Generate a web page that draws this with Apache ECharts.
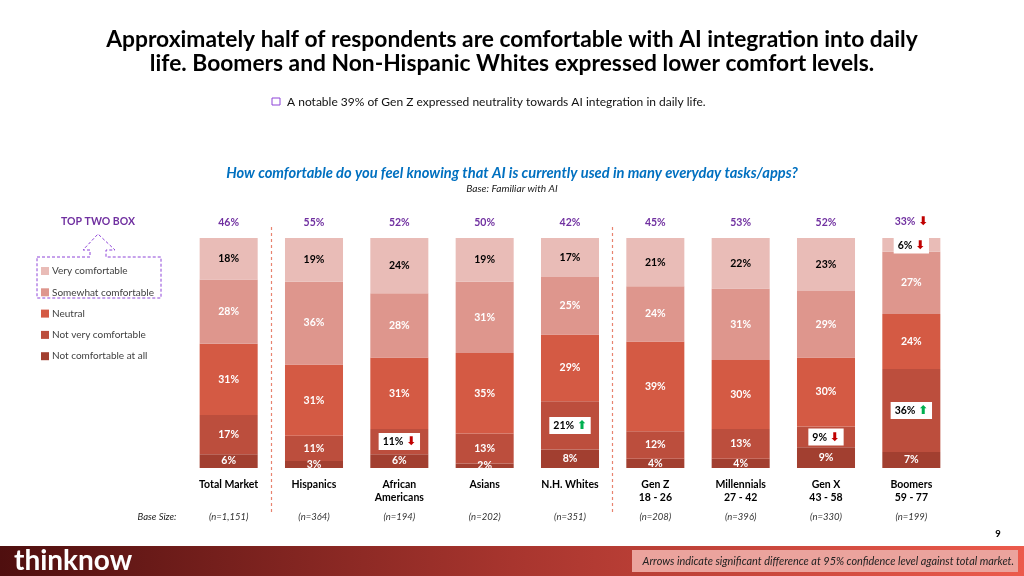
<!DOCTYPE html>
<html>
<head>
<meta charset="utf-8">
<script src="https://cdn.jsdelivr.net/npm/echarts@6.0.0/dist/echarts.min.js"></script>
<style>
html, body { margin: 0; padding: 0; background: #fff; }
#main { width: 1024px; height: 576px; }
</style>
</head>
<body>
<div id="main"></div>
<script>
// data
var categories = ['Total Market', 'Hispanics', 'African\nAmericans', 'Asians', 'N.H. Whites', 'Gen Z\n18 - 26', 'Millennials\n27 - 42', 'Gen X\n43 - 58', 'Boomers\n59 - 77'];
var baseSizes = ['(n=1,151)', '(n=364)', '(n=194)', '(n=202)', '(n=351)', '(n=208)', '(n=396)', '(n=330)', '(n=199)'];
var topTwoBox = [46, 55, 52, 50, 42, 45, 53, 52, 33];
var veryComfortable = [18, 19, 24, 19, 17, 21, 22, 23, 6];
var somewhatComfortable = [28, 36, 28, 31, 25, 24, 31, 29, 27];
var neutral = [31, 31, 31, 35, 29, 39, 30, 30, 24];
var notVeryComfortable = [17, 11, 11, 13, 21, 12, 13, 9, 36];
var notComfortableAtAll = [6, 3, 6, 2, 8, 4, 4, 9, 7];
// significance arrows vs total market
var sigTopTwoBox = ['', '', '', '', '', '', '', '', 'down'];
var sigVery = ['', '', '', '', '', '', '', '', 'down'];
var sigNotVery = ['', '', 'down', '', 'up', '', '', 'down', 'up'];
// dashed separators sit between these category slots
var groupBreaks = [1, 5];

var arrowRich = {
    up: { color: '#00B050', fontFamily: 'DejaVu Sans', fontSize: 12, fontWeight: 'bold' },
    down: { color: '#C00000', fontFamily: 'DejaVu Sans', fontSize: 12, fontWeight: 'bold' }
};
var arrowChar = { up: '⬆', down: '⬇' };

function makeSeries(name, values, color, textColor, sig) {
    return {
        name: name,
        type: 'bar',
        stack: 'total',
        barWidth: '68%',
        xAxisIndex: 0,
        yAxisIndex: 0,
        itemStyle: { color: color },
        label: {
            show: true,
            position: 'inside',
            color: textColor,
            fontFamily: 'Lato',
            fontWeight: 'bold',
            fontSize: 10.5,
            formatter: function (p) {
                var s = sig ? sig[p.dataIndex] : '';
                return p.value + '%' + (s ? ' {' + s + '|' + arrowChar[s] + '}' : '');
            },
            rich: arrowRich
        },
        data: values.map(function (v, i) {
            var d = { value: v };
            if (sig && sig[i]) {
                d.label = { color: '#000', backgroundColor: '#fff', padding: [3, 4, 2, 4] };
            }
            return d;
        })
    };
}

var chart = echarts.init(document.getElementById('main'));

var option = {
    animation: false,
    textStyle: { fontFamily: 'Lato' },
    grid: [
        { left: 186, right: 70, top: 238, bottom: 108 },
        { left: 186, right: 70, top: 226, bottom: 64 }
    ],
    legend: {
        data: ['Very comfortable', 'Somewhat comfortable', 'Neutral', 'Not very comfortable', 'Not comfortable at all'],
        orient: 'vertical',
        left: 36,
        top: 261,
        icon: 'rect',
        itemWidth: 8,
        itemHeight: 8,
        itemGap: 11.3,
        selectedMode: false,
        textStyle: { fontFamily: 'Lato', fontSize: 10, color: '#404040', padding: [0, 0, 0, -2] }
    },
    xAxis: [
        {
            type: 'category',
            gridIndex: 0,
            data: categories,
            position: 'bottom',
            axisLine: { show: false },
            axisTick: { show: false },
            axisLabel: { interval: 0, fontFamily: 'Lato', fontWeight: 'bold', fontSize: 10.5, color: '#000', lineHeight: 13, margin: 10 }
        },
        {
            type: 'category',
            gridIndex: 0,
            data: categories,
            position: 'top',
            axisLine: { show: false },
            axisTick: { show: false },
            axisLabel: {
                interval: 0, fontFamily: 'Lato', fontWeight: 'bold', fontSize: 10.5, color: '#7030A0', margin: 10,
                formatter: function (v, i) {
                    var s = sigTopTwoBox[i];
                    return topTwoBox[i] + '%' + (s ? ' {' + s + '|' + arrowChar[s] + '}' : '');
                },
                rich: arrowRich
            }
        },
        {
            type: 'category',
            gridIndex: 0,
            data: baseSizes,
            position: 'bottom',
            offset: 44,
            axisLine: { show: false },
            axisTick: { show: false },
            axisLabel: { interval: 0, fontFamily: 'Lato', fontStyle: 'italic', fontSize: 9.5, color: '#333', margin: 0 }
        },
        { type: 'value', gridIndex: 1, min: 0, max: categories.length, show: false }
    ],
    yAxis: [
        { type: 'value', gridIndex: 0, min: 0, max: 100, show: false },
        { type: 'value', gridIndex: 1, min: 0, max: 1, show: false }
    ],
    series: [
        makeSeries('Not comfortable at all', notComfortableAtAll, '#A23F30', '#fff', null),
        makeSeries('Not very comfortable', notVeryComfortable, '#BC4E3D', '#fff', sigNotVery),
        makeSeries('Neutral', neutral, '#D45A44', '#fff', null),
        makeSeries('Somewhat comfortable', somewhatComfortable, '#DE968D', '#fff', null),
        makeSeries('Very comfortable', veryComfortable, '#E9BCB7', '#000', sigVery),
        {
            type: 'line',
            xAxisIndex: 3,
            yAxisIndex: 1,
            data: [[0, 0]],
            showSymbol: false,
            silent: true,
            markLine: {
                silent: true,
                symbol: 'none',
                label: { show: false },
                lineStyle: { color: '#E8836F', type: [3, 3], width: 1.2 },
                data: groupBreaks.map(function (b) { return { xAxis: b }; })
            }
        }
    ],
    graphic: [
        {
            type: 'text', x: 512, y: 40,
            style: { text: 'Approximately half of respondents are comfortable with AI integration into daily', textAlign: 'center', textVerticalAlign: 'middle', font: 'bold 22.8px Lato', fill: '#000' }
        },
        {
            type: 'text', x: 512, y: 64,
            style: { text: 'life. Boomers and Non-Hispanic Whites expressed lower comfort levels.', textAlign: 'center', textVerticalAlign: 'middle', font: 'bold 22.8px Lato', fill: '#000' }
        },
        {
            type: 'rect', shape: { x: 272, y: 98, width: 8, height: 7 },
            style: { fill: 'none', stroke: '#8E44D8', lineWidth: 1 }
        },
        {
            type: 'text', x: 287, y: 102,
            style: { text: 'A notable 39% of Gen Z expressed neutrality towards AI integration in daily life.', textAlign: 'left', textVerticalAlign: 'middle', font: '12px Lato', fill: '#111' }
        },
        {
            type: 'text', x: 512, y: 173,
            style: { text: 'How comfortable do you feel knowing that AI is currently used in many everyday tasks/apps?', textAlign: 'center', textVerticalAlign: 'middle', font: 'italic bold 14.7px Lato', fill: '#0070C0' }
        },
        {
            type: 'text', x: 512, y: 189,
            style: { text: 'Base: Familiar with AI', textAlign: 'center', textVerticalAlign: 'middle', font: 'italic 10.2px Lato', fill: '#222' }
        },
        {
            type: 'text', x: 98, y: 222,
            style: { text: 'TOP TWO BOX', textAlign: 'center', textVerticalAlign: 'middle', font: 'bold 10.5px Lato', fill: '#7030A0' }
        },
        {
            type: 'polygon',
            shape: { points: [[37, 257], [90, 257], [90, 250], [83, 250], [98, 234], [115, 250], [106, 250], [106, 257], [161, 257], [161, 298], [37, 298]] },
            style: { fill: 'none', stroke: '#8E44D8', lineWidth: 1, lineDash: [3, 2] }
        },
        {
            type: 'text', x: 157, y: 517,
            style: { text: 'Base Size:', textAlign: 'center', textVerticalAlign: 'middle', font: 'italic 9.5px Lato', fill: '#222' }
        },
        {
            type: 'text', x: 998, y: 534,
            style: { text: '9', textAlign: 'center', textVerticalAlign: 'middle', font: 'bold 9.5px Lato', fill: '#000' }
        },
        {
            type: 'rect', shape: { x: 0, y: 546, width: 1024, height: 30 },
            style: {
                fill: new echarts.graphic.LinearGradient(0, 0, 1, 0, [
                    { offset: 0, color: '#4F0F0F' },
                    { offset: 0.5, color: '#A8352E' },
                    { offset: 1, color: '#EC5A4C' }
                ])
            }
        },
        {
            type: 'text', x: 14, y: 561,
            style: { text: 'thinknow', textAlign: 'left', textVerticalAlign: 'middle', font: 'bold 28px Lato', fill: '#fff' }
        },
        {
            type: 'rect', shape: { x: 632, y: 550, width: 386, height: 22 },
            style: { fill: '#EBA39D' }
        },
        {
            type: 'text', x: 1014, y: 561,
            style: { text: 'Arrows indicate significant difference at 95% confidence level against total market.', textAlign: 'right', textVerticalAlign: 'middle', font: 'italic 10.9px Lato', fill: '#222' }
        }
    ]
};

chart.setOption(option);
</script>
</body>
</html>
